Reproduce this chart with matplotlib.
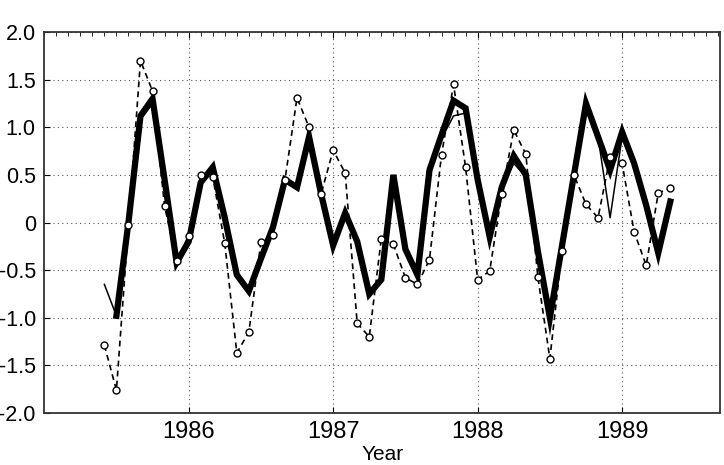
import matplotlib
matplotlib.use("Agg")
import matplotlib.pyplot as plt
from matplotlib.ticker import MultipleLocator
import numpy as np

plt.rcParams['font.family'] = ['Liberation Sans', 'DejaVu Sans']

# observations (dashed, open circles), monthly from May 1985
obs_start = 5
obs_vals = [-1.29, -1.76, -0.03, 1.70, 1.38, 0.17, -0.40, -0.14, 0.50, 0.48,
            -0.22, -1.37, -1.15, -0.21, -0.13, 0.45, 1.31, 1.00, 0.30, 0.76,
            0.52, -1.06, -1.20, -0.17, -0.23, -0.58, -0.65, -0.39, 0.71, 1.45,
            0.58, -0.60, -0.51, 0.30, 0.97, 0.72, -0.57, -1.43, -0.30, 0.50,
            0.19, 0.05, 0.69, 0.62, -0.10, -0.45, 0.31, 0.36]

# ensemble of model runs (drawn as thick band), monthly from June 1985
band_start = 6
band_vals = [-0.98, 0.00, 1.12, 1.30, 0.45, -0.42, -0.20, 0.42, 0.58, 0.05,
             -0.55, -0.72, -0.38, -0.05, 0.45, 0.37, 0.90, 0.30, -0.24, 0.10,
             -0.20, -0.75, -0.60, 0.50, -0.28, -0.55, 0.55, 0.92, 1.28, 1.20,
             0.45, -0.15, 0.37, 0.70, 0.50, -0.30, -1.00, -0.25, 0.50, 1.25,
             0.90, 0.55, 0.95, 0.62, 0.18, -0.32, 0.22]

# single model run (thin solid line), monthly from May 1985
thin_start = 5
thin_vals = [-0.65, -0.98, 0.00, 1.08, 1.25, 0.45, -0.42, -0.20, 0.42, 0.52,
             0.05, -0.55, -0.72, -0.38, -0.05, 0.42, 0.35, 0.88, 0.30, -0.24,
             0.08, -0.20, -0.75, -0.60, 0.48, -0.28, -0.55, 0.50, 0.88, 1.12,
             1.15, 0.45, -0.15, 0.37, 0.62, 0.48, -0.30, -1.00, -0.25, 0.50,
             1.22, 0.90, 0.05, 0.90, 0.62, 0.18, -0.32, 0.22]

year_ticks = [1986, 1987, 1988, 1989]
y_ticks = [-2.0, -1.5, -1.0, -0.5, 0, 0.5, 1.0, 1.5, 2.0]
y_labels = ['-2.0', '-1.5', '-1.0', '-0.5', '0', '0.5', '1.0', '1.5', '2.0']


def months(start, n):
    return 1985 + (start + np.arange(n)) / 12.0


fig = plt.figure(figsize=(7.24, 4.65), dpi=100)
ax = fig.add_axes([0.061, 0.112, 0.934, 0.819])

ax.plot(months(band_start, len(band_vals)), band_vals, color='black', lw=4.5,
        solid_joinstyle='miter', zorder=3)
ax.plot(months(thin_start, len(thin_vals)), thin_vals, color='black', lw=1.1, zorder=4)
ax.plot(months(obs_start, len(obs_vals)), obs_vals, color='black', lw=1.2,
        ls=(0, (3.5, 2.5)), marker='o', ms=5, mfc='white', mec='black', mew=1.0,
        zorder=5)

ax.set_xlim(1985.0, 1989.68)
ax.set_ylim(-2.0, 2.0)
ax.set_xticks(year_ticks)
ax.set_xticklabels([str(y) for y in year_ticks])
ax.set_yticks(y_ticks)
ax.set_yticklabels(y_labels)
ax.xaxis.set_minor_locator(MultipleLocator(1 / 12))
ax.tick_params(axis='both', which='major', direction='in', length=4,
               top=True, right=False)
ax.tick_params(axis='x', which='major', labelsize=17, pad=6)
ax.tick_params(axis='y', which='major', labelsize=15.5, pad=6)
ax.tick_params(axis='x', which='minor', direction='in', length=3, top=True, bottom=False)

ax.grid(True, which='major', ls=(0, (1, 3)), color='#555555', lw=0.8)
for s in ax.spines.values():
    s.set_linewidth(1.3)
    s.set_color('#333333')

# the reference crops most of this label off; keep it just inside the canvas
ax.set_xlabel('Year', fontsize=15, labelpad=1)

fig.savefig('out.png', dpi=100)
